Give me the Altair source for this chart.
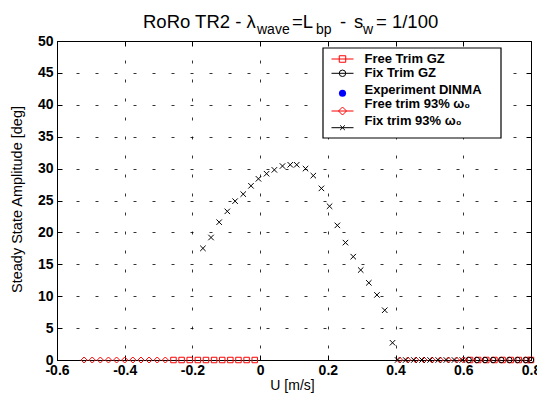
import altair as alt
import pandas as pd

# ---------------- data ----------------
fix93_u = [-0.169, -0.145, -0.121, -0.097, -0.074, -0.050, -0.027, -0.005, 0.019, 0.042,
           0.066, 0.089, 0.108, 0.134, 0.157, 0.181, 0.205, 0.228, 0.252, 0.275,
           0.297, 0.321, 0.345, 0.368, 0.391,
           0.406, 0.430, 0.454, 0.478, 0.502, 0.526, 0.550, 0.574, 0.597]
fix93_amp = [17.5, 19.2, 21.6, 23.3, 24.9, 26.0, 27.3, 28.4, 29.2, 29.8,
             30.4, 30.6, 30.6, 30.0, 28.9, 26.9, 24.1, 21.1, 18.4, 16.2,
             14.1, 12.1, 10.2, 7.8, 2.7,
             0, 0, 0, 0, 0, 0, 0, 0, 0]
free93_u = [-0.520, -0.496, -0.472, -0.448, -0.424, -0.400, -0.376, -0.352, -0.328, -0.304,
            -0.280, 0.412, 0.436, 0.460, 0.484, 0.508, 0.532, 0.556, 0.580, 0.600]
free93_amp = [0] * len(free93_u)
freegz_u = [-0.256, -0.232, -0.208, -0.184, -0.160, -0.136, -0.112, -0.088, -0.064, -0.040,
            -0.016, 0.620, 0.644, 0.668, 0.692, 0.716, 0.740, 0.764, 0.788, 0.800]
freegz_amp = [0] * len(freegz_u)
fixgz_u = [0.616, 0.640, 0.664, 0.688, 0.712, 0.736, 0.760, 0.784, 0.800]
fixgz_amp = [0] * len(fixgz_u)

x_ticks = [-0.6, -0.4, -0.2, 0, 0.2, 0.4, 0.6, 0.8]
y_ticks = [0, 5, 10, 15, 20, 25, 30, 35, 40, 45, 50]

legend_labels = ["Free Trim GZ", "Fix Trim GZ", "Experiment DINMA",
                 "Free trim 93% \u03c9\u2080", "Fix trim 93% \u03c9\u2080"]

# ---------------- layout ----------------
FONT = "Liberation Sans"
L, T = 57, 41
W, H = 474, 319
X_SHAPE = "M-1,-1L1,1M1,-1L-1,1"
RED, BLUE, BLACK = "#ff0000", "#0000ff", "#000000"

xs = alt.Scale(domain=[-0.6, 0.8], nice=False, zero=False)
ys = alt.Scale(domain=[0, 50], nice=False, zero=False)

x_label_expr = ("datum.value == 0 ? '0' : (datum.value < 0 ? '-' + format(-datum.value, '.1f') "
                ": format(datum.value, '.1f'))")

x_axis_main = alt.Axis(values=x_ticks, labelExpr=x_label_expr, grid=True, gridDash=[3, 16],
                       gridColor=BLACK, gridWidth=0.8, ticks=True, tickSize={"expr": "-5"},
                       tickColor=BLACK, labelFont=FONT, labelFontSize=14, labelFontWeight="bold",
                       labelColor=BLACK, labelPadding=8, labelOverlap=False, labelBound=False,
                       labelFlush=False,
                       domainColor=BLACK, domainWidth=1, title="U [m/s]", titleFont=FONT,
                       titleFontSize=14, titleFontWeight="normal", titleColor=BLACK,
                       titleX=235, titleY=25, titleAlign="center", titleBaseline="middle")
y_axis_main = alt.Axis(values=y_ticks, format="d", grid=True, gridDash=[3, 16],
                       gridColor=BLACK, gridWidth=0.8, ticks=True, tickSize={"expr": "-5"},
                       tickColor=BLACK, labelFont=FONT, labelFontSize=14, labelFontWeight="bold",
                       labelColor=BLACK, labelPadding=9, labelOverlap=False, labelBound=False,
                       labelFlush=False, labelBaseline="middle",
                       domainColor=BLACK, domainWidth=1, title="Steady State Amplitude [deg]",
                       titleFont=FONT, titleFontSize=14.5, titleFontWeight="normal",
                       titleColor=BLACK, titleX=-40, titleY=158, titleAngle=270,
                       titleAlign="center", titleBaseline="middle")
x_axis_top = alt.Axis(orient="top", values=x_ticks, labels=False, grid=False, domain=False,
                      ticks=True, tickSize={"expr": "-5"}, tickColor=BLACK, title=None)
y_axis_right = alt.Axis(orient="right", values=y_ticks, labels=False, grid=False, domain=False,
                        ticks=True, tickSize={"expr": "-5"}, tickColor=BLACK, title=None)


def frame(u, a):
    return pd.DataFrame({"U": u, "A": a})


def pts(u, a, shape, color, size, filled=False):
    return alt.Chart(frame(u, a)).mark_point(
        shape=shape, color=color, size=size, filled=filled, strokeWidth=1, clip=False, opacity=1
    ).encode(x=alt.X("U:Q", scale=xs, axis=None), y=alt.Y("A:Q", scale=ys, axis=None))


main = alt.Chart(frame(fix93_u, fix93_amp)).mark_point(
    shape=X_SHAPE, color=BLACK, size=30, strokeWidth=1, clip=False, opacity=1
).encode(x=alt.X("U:Q", scale=xs, axis=x_axis_main), y=alt.Y("A:Q", scale=ys, axis=y_axis_main))

ticks_tr = alt.Chart(frame(fix93_u, fix93_amp)).mark_point(opacity=0).encode(
    x=alt.X("U:Q", scale=xs, axis=x_axis_top), y=alt.Y("A:Q", scale=ys, axis=y_axis_right))

layers = [
    ticks_tr,
    pts(freegz_u, freegz_amp, "square", RED, 30),
    pts(fixgz_u, fixgz_amp, "circle", BLACK, 30),
    pts(free93_u, free93_amp, "diamond", RED, 36),
    main,
]


def txt(s, x, y, size, weight="normal", align="left", baseline="alphabetic", color=BLACK):
    return alt.Chart(pd.DataFrame({"t": [s]})).mark_text(
        text=s, font=FONT, fontSize=size, fontWeight=weight, align=align,
        baseline=baseline, color=color
    ).encode(x=alt.value(x - L), y=alt.value(y - T))


# title with subscripts
title_parts = [("RoRo TR2 - \u03bb", 143, 28, 18.5), ("wave", 257, 34, 14), ("=L", 292, 28, 18.5),
               ("bp", 316, 34, 14), ("-", 340, 28, 18.5), ("s", 354, 28, 18.5),
               ("w", 363, 34, 14), ("= 1/100", 376, 28, 18.5)]
for s, x, y, f in title_parts:
    layers.append(txt(s, x, y, f))

# legend box
layers.append(alt.Chart(pd.DataFrame({"a": [0]})).mark_rect(
    fill="white", stroke=BLACK, strokeWidth=1.2
).encode(x=alt.value(323 - L), x2=alt.value(501 - L), y=alt.value(48 - T), y2=alt.value(138 - T)))

legend_style = [
    # shape, color, filled, size, draw line, symbol y, text baseline y
    ("square", RED, False, 42, True, 59, 63.3),
    ("circle", BLACK, False, 42, True, 73.3, 77.3),
    ("circle", BLUE, True, 50, False, 93.3, 93.5),
    ("diamond", RED, False, 64, True, 111, 107.5),
    (X_SHAPE, BLACK, False, 22, True, 127.7, 125),
]
for lab, (shape, color, filled, size, line, sy, ty) in zip(legend_labels, legend_style):
    if line:
        layers.append(alt.Chart(pd.DataFrame({"a": [0]})).mark_rule(color=color, strokeWidth=1).encode(
            x=alt.value(331.5 - L), x2=alt.value(353.5 - L), y=alt.value(sy - T)))
    layers.append(alt.Chart(pd.DataFrame({"a": [0]})).mark_point(
        shape=shape, color=color, filled=filled, size=size, strokeWidth=1, opacity=1
    ).encode(x=alt.value(342.5 - L), y=alt.value(sy - T)))
    layers.append(txt(lab, 364.5, ty, 13, weight="bold"))

chart = alt.layer(*layers).resolve_axis(x="independent", y="independent").properties(
    width=W, height=H,
    autosize=alt.AutoSizeParams(type="none"),
    padding={"left": L, "top": T, "right": 537 - L - W, "bottom": 394 - T - H},
).configure_view(stroke=BLACK, strokeWidth=1)

chart.save("out.html", embed_options={"renderer": "svg", "actions": False})
